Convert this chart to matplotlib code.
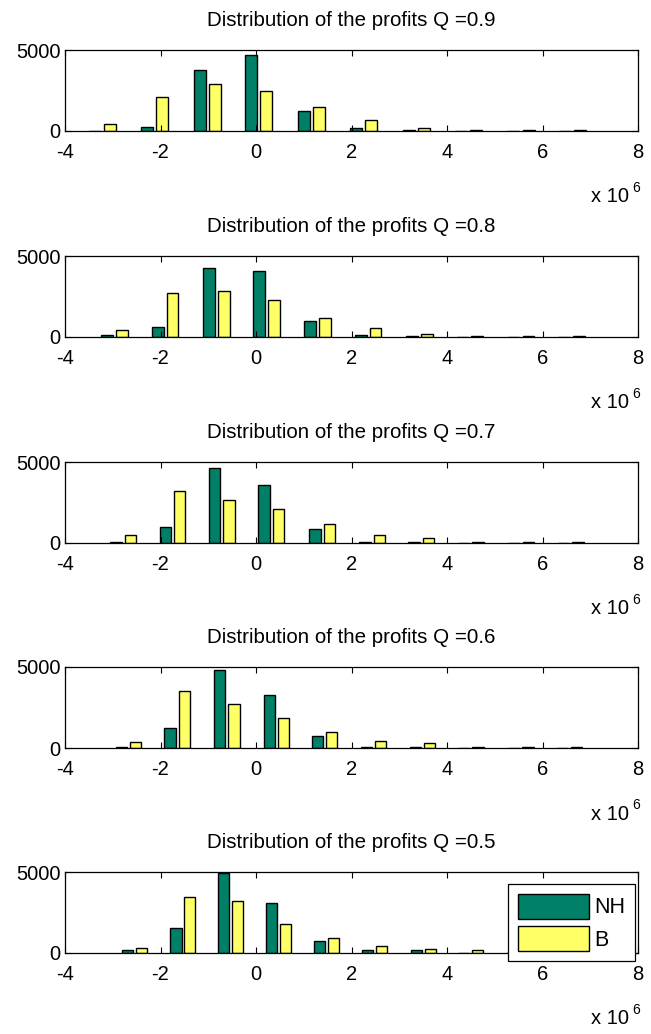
import numpy as np
import matplotlib
matplotlib.use("Agg")
import matplotlib.pyplot as plt

plt.rcParams['font.family'] = ['Liberation Sans', 'DejaVu Sans']

q_levels = ["0.9", "0.8", "0.7", "0.6", "0.5"]

bin_centers = [
    [-3.21, -2.12, -1.02, 0.06, 1.16, 2.26, 3.36, 4.45, 5.55, 6.63],
    [-2.96, -1.90, -0.83, 0.22, 1.29, 2.35, 3.42, 4.48, 5.55, 6.61],
    [-2.78, -1.75, -0.72, 0.32, 1.39, 2.43, 3.46, 4.50, 5.55, 6.59],
    [-2.67, -1.65, -0.61, 0.43, 1.43, 2.46, 3.49, 4.50, 5.55, 6.57],
    [-2.55, -1.53, -0.53, 0.47, 1.48, 2.48, 3.50, 4.50, 5.50, 6.50],
]

nh_counts = [
    [0, 270, 3760, 4710, 1240, 190, 80, 0, 0, 0],
    [100, 635, 4290, 4070, 1010, 100, 60, 0, 0, 0],
    [60, 960, 4600, 3600, 880, 60, 50, 0, 0, 0],
    [60, 1230, 4800, 3250, 750, 60, 60, 0, 0, 0],
    [160, 1560, 4960, 3070, 740, 160, 160, 0, 0, 0],
]

b_counts = [
    [455, 2070, 2930, 2460, 1490, 660, 190, 60, 50, 50],
    [440, 2740, 2820, 2260, 1190, 540, 180, 60, 50, 50],
    [480, 3240, 2680, 2120, 1200, 480, 320, 60, 50, 50],
    [360, 3490, 2700, 1870, 990, 440, 280, 60, 50, 50],
    [330, 3440, 3240, 1760, 900, 450, 250, 160, 50, 50],
]

series_labels = ["NH", "B"]
x_ticks = [-4, -2, 0, 2, 4, 6, 8]
y_ticks = [0, 5000]

nh_color = "#008066"
b_color = "#ffff66"

W, H = 651, 1034
fig = plt.figure(figsize=(W / 100, H / 100), dpi=100)

ax_left = 65 / W
ax_width = (638 - 65) / W
ax_height = 81 / H
bottoms_px = [131, 337, 543, 748, 953]
fs = 14.5

for i, q in enumerate(q_levels):
    bottom = 1 - bottoms_px[i] / H
    ax = fig.add_axes([ax_left, bottom, ax_width, ax_height])
    c = np.array(bin_centers[i])
    sp = np.mean(np.diff(c))
    w = 0.23 * sp
    off = 0.145 * sp
    h1 = ax.bar(c - off, nh_counts[i], width=w, color=nh_color,
                edgecolor="black", linewidth=1.0, label=series_labels[0])
    h2 = ax.bar(c + off, b_counts[i], width=w, color=b_color,
                edgecolor="black", linewidth=1.0, label=series_labels[1])
    ax.set_xlim(-4, 8)
    ax.set_ylim(0, 5000)
    ax.set_xticks(x_ticks)
    ax.set_xticklabels([str(t) for t in x_ticks])
    ax.set_yticks(y_ticks)
    ax.set_yticklabels([str(t) for t in y_ticks])
    ax.tick_params(direction="in", length=4, width=0.8, top=True, right=True,
                   labelsize=fs)
    ax.tick_params(axis="x", pad=8.5)
    ax.tick_params(axis="y", pad=3)
    for s in ax.spines.values():
        s.set_linewidth(0.9)
    ax.set_title("Distribution of the profits Q =" + q, fontsize=14.8, pad=17)
    # x 10^6 multiplier
    ycen = 1 - (bottoms_px[i] + 66) / H
    fig.text(591 / W, ycen, "x 10", fontsize=fs, ha="left", va="center")
    fig.text(632 / W, ycen + 9 / H, "6", fontsize=10, ha="left", va="center")
    if i == len(q_levels) - 1:
        leg = ax.legend(handles=[h1, h2], loc="upper left",
                        bbox_to_anchor=(508 / W, 1 - 884 / H),
                        bbox_transform=fig.transFigure, borderaxespad=0,
                        fancybox=False, framealpha=1, edgecolor="black",
                        fontsize=15.5, handlelength=3.3, handleheight=1.4,
                        handletextpad=0.25, borderpad=0.45, labelspacing=0.35)
        leg.get_frame().set_linewidth(0.9)

fig.savefig("out.png", dpi=100)
